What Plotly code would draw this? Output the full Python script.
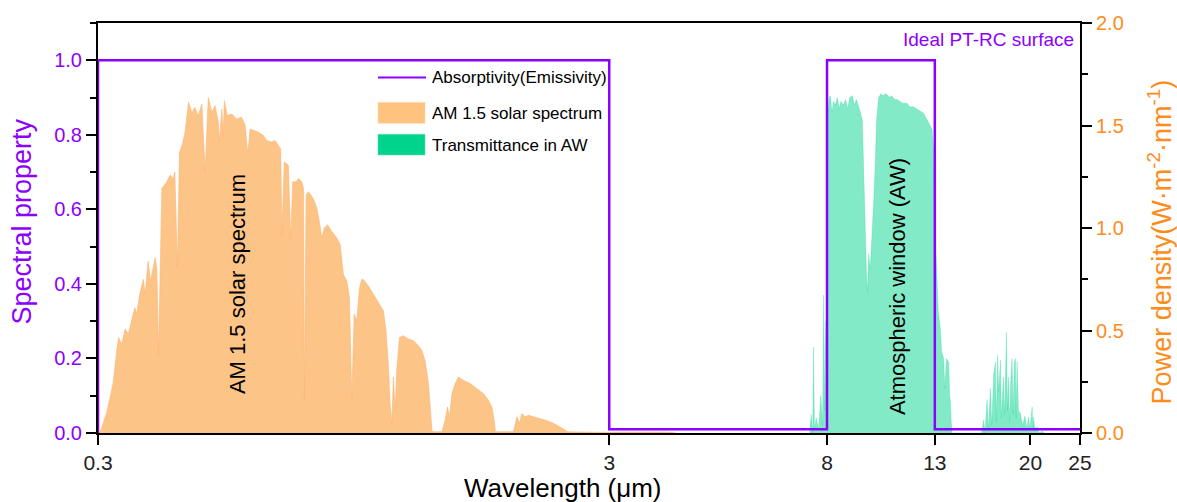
import plotly.graph_objects as go

# AM 1.5 solar spectral irradiance (W m^-2 nm^-1) vs wavelength (um)
solar_wl = [0.300, 0.303, 0.312, 0.321, 0.326, 0.329, 0.334, 0.339, 0.344, 0.349,
            0.354, 0.357, 0.362, 0.368, 0.371, 0.376, 0.380, 0.388, 0.391, 0.394,
            0.397, 0.400, 0.409, 0.415, 0.421, 0.424, 0.429, 0.433, 0.438, 0.444,
            0.451, 0.458, 0.464, 0.471, 0.479, 0.486, 0.493, 0.501, 0.508, 0.516,
            0.518, 0.524, 0.527, 0.530, 0.537, 0.548, 0.560, 0.573, 0.582, 0.589,
            0.595, 0.604, 0.618, 0.632, 0.641, 0.656, 0.666, 0.676, 0.683, 0.687,
            0.694, 0.707, 0.715, 0.721, 0.732, 0.740, 0.751, 0.757, 0.760, 0.766,
            0.774, 0.791, 0.804, 0.813, 0.822, 0.831, 0.843, 0.860, 0.880, 0.893,
            0.906, 0.920, 0.931, 0.941, 0.951, 0.962, 0.974, 0.984, 0.991, 1.014,
            1.037, 1.061, 1.085, 1.098, 1.110, 1.118, 1.127, 1.135, 1.144, 1.152,
            1.166, 1.187, 1.214, 1.242, 1.270, 1.290, 1.309, 1.329, 1.343, 1.351,
            1.412, 1.433, 1.448, 1.461, 1.477, 1.499, 1.521, 1.556, 1.604, 1.653,
            1.703, 1.741, 1.768, 1.787, 1.797, 1.949, 1.964, 1.979, 2.002, 2.024,
            2.054, 2.085, 2.133, 2.198, 2.266, 2.334, 2.405, 2.460, 2.479, 2.6,
            2.9, 3.2, 3.5, 3.8, 4.0, 4.05]
solar_pd = [0.0, 0.005, 0.10, 0.24, 0.39, 0.466, 0.434, 0.507, 0.483, 0.547,
            0.612, 0.58, 0.677, 0.749, 0.677, 0.838, 0.741, 0.854, 0.805, 0.386,
            0.870, 1.193, 1.225, 1.258, 1.241, 1.274, 0.805, 1.370, 1.403, 1.467,
            1.613, 1.564, 1.588, 1.548, 1.604, 1.274, 1.637, 1.564, 1.597, 1.516,
            1.42, 1.580, 1.45, 1.621, 1.548, 1.556, 1.532, 1.540, 1.500, 1.36,
            1.483, 1.476, 1.467, 1.451, 1.427, 1.419, 1.427, 1.403, 1.387, 0.967,
            1.322, 1.306, 0.935, 1.225, 1.225, 1.241, 1.225, 1.193, 0.160, 1.161,
            1.177, 1.144, 1.096, 1.031, 0.951, 0.999, 1.016, 0.983, 0.951, 0.919,
            0.773, 0.741, 0.660, 0.160, 0.580, 0.547, 0.708, 0.749, 0.749, 0.717,
            0.677, 0.636, 0.596, 0.499, 0.321, 0.144, 0.047, 0.273, 0.111, 0.305,
            0.466, 0.475, 0.459, 0.450, 0.426, 0.402, 0.354, 0.241, 0.079, 0.006,
            0.006, 0.063, 0.127, 0.079, 0.192, 0.241, 0.273, 0.257, 0.241, 0.216,
            0.192, 0.160, 0.127, 0.063, 0.006, 0.006, 0.047, 0.079, 0.047, 0.095,
            0.079, 0.087, 0.079, 0.071, 0.060, 0.047, 0.031, 0.015, 0.006, 0.004,
            0.003, 0.005, 0.006, 0.005, 0.003, 0.0]

# Atmospheric transmittance in the atmospheric window (AW)
aw_wl = [7.40, 7.45, 7.50, 7.53, 7.56, 7.62, 7.70, 7.78, 7.84, 7.88,
         7.92, 7.96, 7.99, 8.00, 8.03, 8.08, 8.12, 8.18, 8.24, 8.31,
         8.38, 8.45, 8.52, 8.61, 8.70, 8.78, 8.86, 8.97, 9.05, 9.13,
         9.21, 9.30, 9.38, 9.43, 9.50, 9.56, 9.60, 9.65, 9.72, 9.80,
         9.87, 9.94, 10.00, 10.09, 10.20, 10.30, 10.40, 10.48, 10.60, 10.70,
         10.85, 10.97, 11.10, 11.25, 11.47, 11.60, 11.80, 12.00, 12.20, 12.36,
         12.50, 12.65, 12.84, 12.92, 12.97, 13.05, 13.13, 13.20, 13.33, 13.40,
         13.53, 13.60, 13.70, 13.84, 13.90, 13.94, 14.00, 14.05, 16.05, 16.20,
         16.30, 16.45, 16.55, 16.70, 16.80, 16.95, 17.08, 17.15, 17.25, 17.33,
         17.47, 17.55, 17.70, 17.80, 17.95, 18.03, 18.11, 18.20, 18.30, 18.41,
         18.50, 18.60, 18.69, 18.75, 18.83, 18.95, 19.12, 19.30, 19.50, 19.70,
         19.82, 19.95, 20.15, 20.22, 20.27, 20.40, 20.61, 20.80, 21.08, 21.30]
aw_t = [0.0, 0.05, 0.0, 0.23, 0.01, 0.04, 0.01, 0.10, 0.02, 0.37,
        0.06, 0.30, 0.10, 0.45, 0.86, 0.90, 0.905, 0.86, 0.89, 0.88,
        0.90, 0.87, 0.89, 0.88, 0.895, 0.87, 0.90, 0.905, 0.88, 0.895,
        0.88, 0.86, 0.84, 0.70, 0.55, 0.42, 0.38, 0.48, 0.44, 0.52,
        0.62, 0.72, 0.84, 0.90, 0.91, 0.905, 0.91, 0.908, 0.90, 0.905,
        0.895, 0.895, 0.89, 0.885, 0.885, 0.875, 0.875, 0.868, 0.862, 0.858,
        0.845, 0.833, 0.815, 0.76, 0.62, 0.50, 0.42, 0.33, 0.28, 0.22,
        0.20, 0.12, 0.20, 0.19, 0.10, 0.09, 0.03, 0.0, 0.0, 0.035,
        0.0, 0.09, 0.01, 0.12, 0.02, 0.16, 0.19, 0.03, 0.21, 0.11,
        0.195, 0.04, 0.15, 0.05, 0.27, 0.06, 0.15, 0.03, 0.14, 0.20,
        0.05, 0.19, 0.20, 0.04, 0.19, 0.06, 0.053, 0.02, 0.045, 0.01,
        0.043, 0.01, 0.07, 0.01, 0.043, 0.01, 0.016, 0.0, 0.005, 0.0]

# Ideal PT-RC surface absorptivity / emissivity
absorb_wl = [0.3, 0.3, 3, 3, 8, 8, 13, 13, 25]
absorb_val = [0.0, 1.0, 1.0, 0.01, 0.01, 1.0, 1.0, 0.01, 0.01]

x_ticks = [0.3, 3, 8, 13, 20, 25]
x_tick_text = ["0.3", "3", "8", "13", "20", "25"]

PURPLE = "#8C00FF"
ORANGE = "#FF8C1A"
FONT = "Liberation Sans, Arial, sans-serif"

fig = go.Figure()

fig.add_trace(go.Scatter(
    x=solar_wl, y=solar_pd, yaxis="y", mode="lines",
    line=dict(color="#FBB472", width=0.6),
    fill="tozeroy", fillcolor="#FDC487", showlegend=False,
))
fig.add_trace(go.Scatter(
    x=aw_wl, y=aw_t, yaxis="y2", mode="lines",
    line=dict(color="rgba(0,210,140,0.45)", width=0.5),
    fill="tozeroy", fillcolor="rgba(0,212,140,0.49)", showlegend=False,
))
fig.add_trace(go.Scatter(
    x=absorb_wl, y=absorb_val, yaxis="y2", mode="lines",
    line=dict(color=PURPLE, width=2.5), showlegend=False,
))

W, H = 1177, 502
L, R, T, B = 98, 97, 20, 69
pw, ph = W - L - R, H - T - B


def px(xp):
    return (xp - L) / pw


def py(yp):
    return (H - B - yp) / ph


ann = []
ann.append(dict(text="Ideal PT-RC surface", x=px(1076), y=py(37), xanchor="right",
                yanchor="middle", font=dict(size=19, color=PURPLE)))
ann.append(dict(text="AM 1.5 solar spectrum", x=px(237), y=py(283), textangle=-90,
                xanchor="center", yanchor="middle", font=dict(size=22, color="black")))
ann.append(dict(text="Atmospheric window (AW)", x=px(897), y=py(286), textangle=-90,
                xanchor="center", yanchor="middle", font=dict(size=22, color="black")))
ann.append(dict(text="Wavelength (\u03bcm)", x=px(563), y=py(488), xanchor="center",
                yanchor="middle", font=dict(size=26, color="black")))
ann.append(dict(text="Spectral property", x=px(22), y=py(220), textangle=-90,
                xanchor="center", yanchor="middle", font=dict(size=27, color=PURPLE)))
ann.append(dict(text="Power density(W\u00b7m<sup>-2</sup>\u00b7nm<sup>-1</sup>)",
                x=px(1160), y=py(241), textangle=-90, xanchor="center", yanchor="middle",
                font=dict(size=27, color=ORANGE)))
# legend labels
for label, yy in [("Absorptivity(Emissivity)", 75), ("AM 1.5 solar spectrum", 111),
                  ("Transmittance in AW", 143)]:
    ann.append(dict(text=label, x=px(430), y=py(yy), xanchor="left", yanchor="middle",
                    font=dict(size=17, color="black")))
for a in ann:
    a.update(xref="paper", yref="paper", showarrow=False)

shapes = [
    dict(type="line", xref="paper", yref="paper", x0=px(378), x1=px(426), y0=py(75), y1=py(75),
         line=dict(color=PURPLE, width=2)),
    dict(type="rect", xref="paper", yref="paper", x0=px(378), x1=px(425), y0=py(121), y1=py(100),
         fillcolor="#FFC27F", line=dict(color="#FFD0A0", width=0.5)),
    dict(type="rect", xref="paper", yref="paper", x0=px(378), x1=px(425), y0=py(153), y1=py(132),
         fillcolor="#00D38B", line=dict(color="#60E0B0", width=0.5)),
]

fig.update_layout(
    width=W, height=H,
    margin=dict(l=L, r=R, t=T, b=B, pad=0),
    paper_bgcolor="white", plot_bgcolor="white",
    font=dict(family=FONT, color="black"),
    showlegend=False,
    annotations=ann, shapes=shapes,
    xaxis=dict(
        type="log", range=[-0.5228787, 1.39794],
        tickvals=x_ticks, ticktext=x_tick_text,
        ticks="outside", ticklen=10, tickwidth=2, tickcolor="black",
        showline=True, linecolor="black", linewidth=2, mirror=True,
        showgrid=False, zeroline=False,
        tickfont=dict(size=21, color="#222"),
    ),
    yaxis=dict(
        side="right", range=[0, 2.0], tick0=0, dtick=0.5, tickformat=".1f",
        ticks="outside", ticklen=10, tickwidth=2, tickcolor="black",
        minor=dict(dtick=0.25, ticks="outside", ticklen=6, tickwidth=2, tickcolor="black"),
        showline=True, linecolor="black", linewidth=2,
        showgrid=False, zeroline=False,
        tickfont=dict(size=20, color=ORANGE),
    ),
    yaxis2=dict(
        side="left", overlaying="y", range=[0, 1.1], tick0=0, dtick=0.2, tickformat=".1f",
        ticks="outside", ticklen=10, tickwidth=2, tickcolor="black",
        minor=dict(dtick=0.1, ticks="outside", ticklen=6, tickwidth=2, tickcolor="black"),
        showline=True, linecolor="black", linewidth=2,
        showgrid=False, zeroline=False,
        tickfont=dict(size=20, color=PURPLE),
    ),
)

fig.write_html("out.html")
